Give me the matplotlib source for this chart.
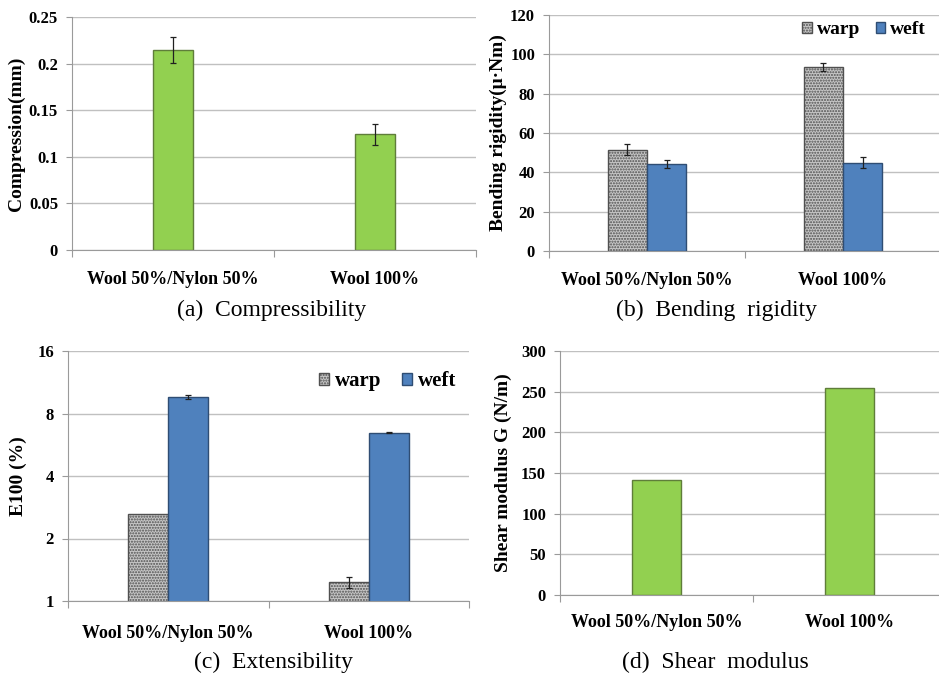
import numpy as np
import matplotlib
matplotlib.use('Agg')
import matplotlib.pyplot as plt
from matplotlib.ticker import FixedLocator, NullLocator

# =============================================================================
#     data
# =============================================================================
categories = ['Wool 50%/Nylon 50%', 'Wool 100%']

compression = [0.215, 0.124]
compression_err = [0.014, 0.011]

bending_warp = [51.6, 93.4]
bending_warp_err = [3.0, 2.0]
bending_weft = [44.2, 45.0]
bending_weft_err = [2.0, 3.0]

e100_warp = [2.61, 1.23]
e100_warp_err = [np.nan, 0.08]
e100_weft = [9.6, 6.46]
e100_weft_err = [0.2, 0.05]

shear = [141.5, 254.5]

captions = ['(a)  Compressibility', '(b)  Bending  rigidity',
            '(c)  Extensibility', '(d)  Shear  modulus']

# =============================================================================
#     style
# =============================================================================
SERIF = ['Liberation Serif', 'DejaVu Serif']
plt.rcParams['font.family'] = SERIF
plt.rcParams['hatch.color'] = '#6a6a6a'
plt.rcParams['hatch.linewidth'] = 1.0

GREEN = '#92d050'
GREEN_EDGE = '#5f7d3a'
BLUE = '#4f81bd'
BLUE_EDGE = '#2f4d73'
GRAY = '#c6c6c6'
GRAY_EDGE = '#505050'
GRID = '#c0c0c0'
SPINE = '#9a9a9a'

W, H = 939, 675
fig = plt.figure(figsize=(W / 100, H / 100), dpi=100)


def px_axes(left, top, right, bottom):
    ax = fig.add_axes([left / W, 1 - bottom / H, (right - left) / W, (bottom - top) / H])
    ax._px = (left, top, right, bottom)
    return ax


def style_axes(ax, ylabel, ylabel_x, cat_pad):
    for s in ['top', 'right']:
        ax.spines[s].set_visible(False)
    ax.spines['left'].set_color(SPINE)
    ax.spines['bottom'].set_color(SPINE)
    ax.yaxis.grid(True, color=GRID, lw=1.0)
    ax.set_axisbelow(True)
    ax.set_xlim(-0.5, 1.5)
    ax.xaxis.set_major_locator(FixedLocator([-0.5, 0.5, 1.5]))
    ax.xaxis.set_major_formatter(plt.NullFormatter())
    ax.xaxis.set_minor_locator(FixedLocator([0, 1]))
    ax.set_xticklabels(categories, minor=True, fontsize=13, fontweight='bold')
    ax.tick_params(axis='x', which='major', length=5, color=SPINE, direction='out')
    ax.tick_params(axis='x', which='minor', length=0, pad=cat_pad)
    ax.tick_params(axis='y', length=4, color=SPINE, labelsize=12, pad=6)
    for t in ax.get_yticklabels():
        t.set_fontweight('bold')
    ax.set_ylabel(ylabel, fontsize=14, fontweight='bold')
    left, top, right, bottom = ax._px
    ax.yaxis.set_label_coords((ylabel_x - left) / (right - left), 0.5)


def add_legend(ax, right_px, y_px, size, colsp):
    left, top, right, bottom = ax._px
    leg = ax.legend(loc='center right',
                    bbox_to_anchor=((right_px - left) / (right - left), (bottom - y_px) / (bottom - top)),
                    ncol=2, frameon=False, borderaxespad=0, borderpad=0,
                    prop=dict(family='Liberation Serif', size=size, weight='bold'),
                    handlelength=0.5, handleheight=0.5, handletextpad=0.25, columnspacing=colsp)
    for t in leg.get_texts():
        t.set_family('Liberation Serif')


err_kw = dict(ecolor='#202020', elinewidth=0.9, capsize=2.5, capthick=0.9)
x = np.arange(len(categories))

# (a) Compressibility
ax = px_axes(72, 17, 476, 250)
ax.bar(x, compression, width=0.2, color=GREEN, edgecolor=GREEN_EDGE, lw=1.0,
       yerr=compression_err, error_kw=err_kw)
ax.set_ylim(0, 0.25)
ax.set_yticks([0, 0.05, 0.1, 0.15, 0.2, 0.25])
ax.set_yticklabels(['0', '0.05', '0.1', '0.15', '0.2', '0.25'])
style_axes(ax, 'Compression(mm)', 25, 15)

# (b) Bending rigidity
ax = px_axes(549, 15, 941, 251)
ax.bar(x - 0.1, bending_warp, width=0.2, color=GRAY, edgecolor=GRAY_EDGE, lw=1.0,
       hatch='......', yerr=bending_warp_err, error_kw=err_kw, label='warp')
ax.bar(x + 0.1, bending_weft, width=0.2, color=BLUE, edgecolor=BLUE_EDGE, lw=1.0,
       yerr=bending_weft_err, error_kw=err_kw, label='weft')
ax.set_ylim(0, 120)
ax.set_yticks(np.arange(0, 121, 20))
style_axes(ax, 'Bending rigidity(μ·Nm)', 507, 15)
add_legend(ax, 926, 30, 14, 0.8)

# (c) Extensibility
ax = px_axes(68, 351, 469, 601)
ax.bar(x - 0.1, e100_warp, width=0.2, color=GRAY, edgecolor=GRAY_EDGE, lw=1.0,
       hatch='......', yerr=e100_warp_err, error_kw=err_kw, label='warp')
ax.bar(x + 0.1, e100_weft, width=0.2, color=BLUE, edgecolor=BLUE_EDGE, lw=1.0,
       yerr=e100_weft_err, error_kw=err_kw, label='weft')
ax.set_yscale('log', base=2)
ax.set_ylim(1, 16)
ax.yaxis.set_major_locator(FixedLocator([1, 2, 4, 8, 16]))
ax.yaxis.set_minor_locator(NullLocator())
ax.set_yticklabels(['1', '2', '4', '8', '16'])
style_axes(ax, 'E100 (%)', 27, 17)
add_legend(ax, 456, 381, 15, 1.0)

# (d) Shear modulus
ax = px_axes(560, 351, 946, 595)
ax.bar(x, shear, width=0.25, color=GREEN, edgecolor=GREEN_EDGE, lw=1.0)
ax.set_ylim(0, 300)
ax.set_yticks(np.arange(0, 301, 50))
style_axes(ax, 'Shear modulus G (N/m)', 512, 14)

# captions
cap_pos = [(272, 310), (716, 310), (273, 662), (715, 662)]
for (cx, cy), txt in zip(cap_pos, captions):
    fig.text(cx / W, 1 - cy / H, txt, ha='center', va='center', fontsize=17)

fig.savefig('out.png', dpi=100)
